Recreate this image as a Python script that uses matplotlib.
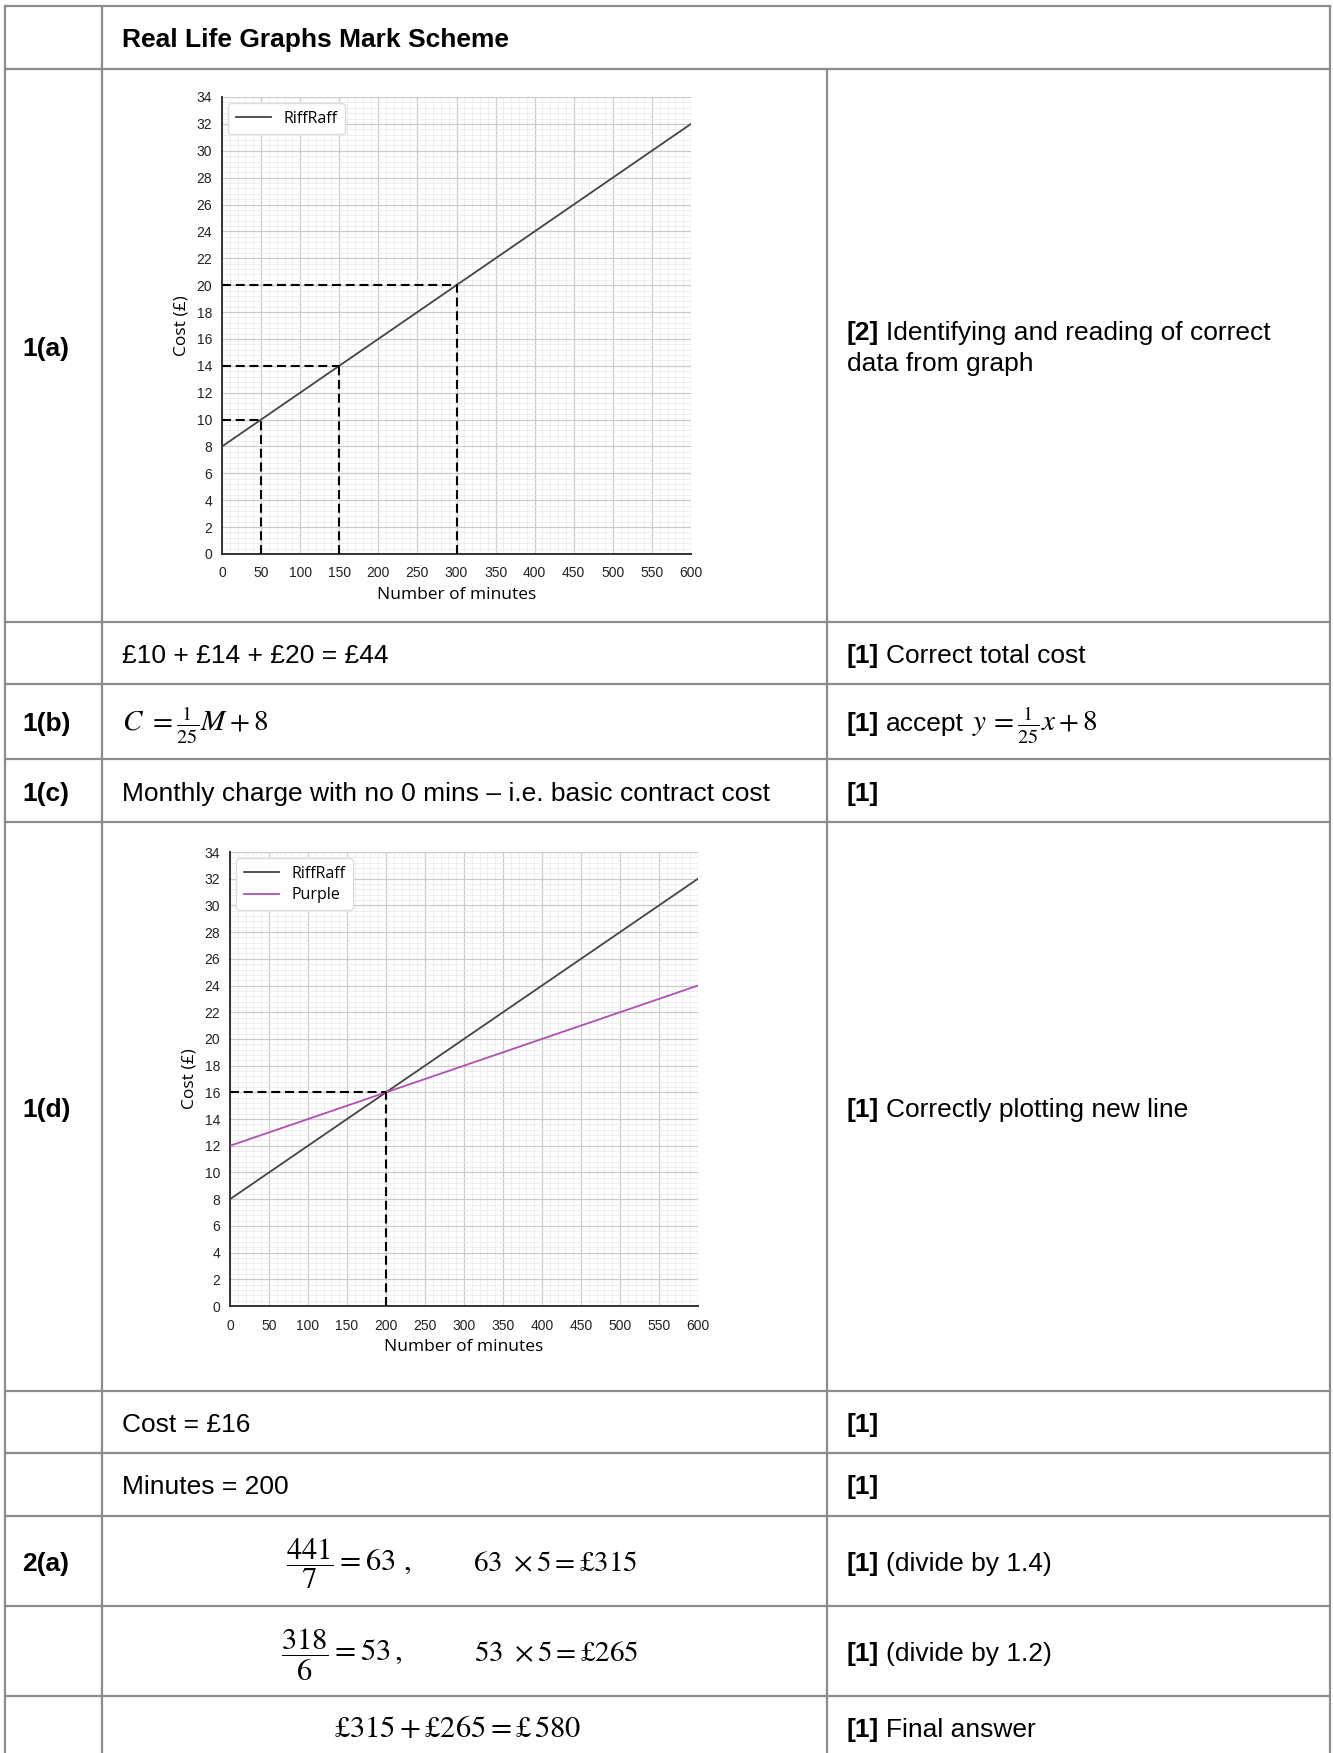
import matplotlib
matplotlib.use("Agg")
import matplotlib.pyplot as plt
from matplotlib.lines import Line2D
from matplotlib.ticker import MultipleLocator

plt.rcParams['font.family'] = ['Liberation Sans', 'DejaVu Sans']
plt.rcParams['mathtext.fontset'] = 'stix'

W, H = 1333, 1753
FS = 19            # body text size (pt)
MFS = 22           # maths size (pt)
GRID = '#8c8c8c'

# ---- chart data ----
minutes = [0, 600]
riffraff = [8, 32]
purple = [12, 24]
x_ticks = list(range(0, 601, 50))
y_ticks = list(range(0, 35, 2))
reads_a = [(50, 10), (150, 14), (300, 20)]   # dashed read-offs in 1(a)
reads_d = [(200, 16)]                         # intersection in 1(d)

# ---- table layout (pixels) ----
col_x = [5, 102, 827, 1330]
row_y = [6, 69, 622, 684, 759, 822, 1391, 1453, 1516, 1606, 1696]

fig = plt.figure(figsize=(W / 100, H / 100), dpi=100)
fig.patch.set_facecolor('white')


def fx(px):
    return px / W


def fy(py):
    return 1 - py / H


def hline(y, x0, x1):
    fig.add_artist(Line2D([fx(x0), fx(x1)], [fy(y), fy(y)], color=GRID, lw=1.6))


def vline(x, y0, y1):
    fig.add_artist(Line2D([fx(x), fx(x)], [fy(y0), fy(y1)], color=GRID, lw=1.6))


for y in row_y:
    hline(y, col_x[0], col_x[-1])
vline(col_x[0], row_y[0], H)
vline(col_x[1], row_y[0], H)
vline(col_x[2], row_y[1], H)
vline(col_x[3], row_y[0], H)

renderer = fig.canvas.get_renderer()


def rich(x, y, parts, size=FS):
    """parts: list of (text, weight, gap_after_px)"""
    cx = x
    for s, w, gap in parts:
        t = fig.text(fx(cx), fy(y), s, fontsize=size, fontweight=w,
                     va='baseline', ha='left')
        bb = t.get_window_extent(renderer=renderer)
        cx += bb.width + gap
    return cx


LBL_X = 22
TXT_X = 122
MARK_X = 847

# title
fig.text(fx(TXT_X), fy(47), 'Real Life Graphs Mark Scheme', fontsize=FS,
         fontweight='bold', va='baseline')

# row labels
for lab, yb in [('1(a)', 356), ('1(b)', 731), ('1(c)', 801), ('1(d)', 1117), ('2(a)', 1571)]:
    fig.text(fx(LBL_X), fy(yb), lab, fontsize=FS, fontweight='bold', va='baseline')

# mark column
rich(MARK_X, 340, [('[2]', 'bold', 7), ('Identifying and reading of correct', 'normal', 0)])
fig.text(fx(MARK_X), fy(371), 'data from graph', fontsize=FS, va='baseline')
rich(MARK_X, 663, [('[1]', 'bold', 7), ('Correct total cost', 'normal', 0)])
cx = rich(MARK_X, 731, [('[1]', 'bold', 7), ('accept', 'normal', 8)])
fig.text(fx(cx), fy(731), r'$y\,=\frac{1}{25}x+8$', fontsize=MFS - 1, va='baseline')
rich(MARK_X, 801, [('[1]', 'bold', 0)])
rich(MARK_X, 1117, [('[1]', 'bold', 7), ('Correctly plotting new line', 'normal', 0)])
rich(MARK_X, 1432, [('[1]', 'bold', 0)])
rich(MARK_X, 1494, [('[1]', 'bold', 0)])
rich(MARK_X, 1571, [('[1]', 'bold', 7), ('(divide by 1.4)', 'normal', 0)])
rich(MARK_X, 1661, [('[1]', 'bold', 7), ('(divide by 1.2)', 'normal', 0)])
rich(MARK_X, 1737, [('[1]', 'bold', 7), ('Final answer', 'normal', 0)])

# working column
fig.text(fx(TXT_X), fy(663), '£10 + £14 + £20 = £44', fontsize=FS, va='baseline')
fig.text(fx(TXT_X), fy(731), r'$C\ =\frac{1}{25}M+8$', fontsize=MFS - 1, va='baseline')
fig.text(fx(TXT_X), fy(801), 'Monthly charge with no 0 mins \u2013 i.e. basic contract cost',
         fontsize=FS, va='baseline')
fig.text(fx(TXT_X), fy(1432), 'Cost = £16', fontsize=FS, va='baseline')
fig.text(fx(TXT_X), fy(1494), 'Minutes = 200', fontsize=FS, va='baseline')
fig.text(fx(286), fy(1571), r'$\dfrac{441}{7}=63\ ,$', fontsize=MFS, va='baseline')
fig.text(fx(473), fy(1571), r'$63\ \times 5=£315$', fontsize=MFS - 1, va='baseline')
fig.text(fx(281), fy(1661), r'$\dfrac{318}{6}=53\,,$', fontsize=MFS, va='baseline')
fig.text(fx(474), fy(1661), r'$53\ \times 5=£265$', fontsize=MFS - 1, va='baseline')
fig.text(fx(334), fy(1737), r'$£315+£265=£\,580$', fontsize=MFS, va='baseline')


def make_chart(left, right, top, bottom, series, reads):
    ax = fig.add_axes([fx(left), fy(bottom), (right - left) / W, (bottom - top) / H])
    for label, ys, color in series:
        ax.plot(minutes, ys, color=color, lw=1.3, label=label, zorder=3)
    for xr, yr in reads:
        ax.plot([0, xr], [yr, yr], color='black', lw=1.5, ls=(0, (4.3, 2.3)), zorder=4)
        ax.plot([xr, xr], [0, yr], color='black', lw=1.5, ls=(0, (4.3, 2.3)), zorder=4)
    ax.set_xlim(0, 600)
    ax.set_ylim(0, 34)
    ax.set_xticks(x_ticks)
    ax.set_yticks(y_ticks)
    ax.xaxis.set_minor_locator(MultipleLocator(10))
    ax.yaxis.set_minor_locator(MultipleLocator(0.4))
    ax.grid(True, which='major', color='#cccccc', lw=0.9)
    ax.grid(True, which='minor', color='#ebebeb', lw=0.6)
    ax.set_axisbelow(True)
    ax.tick_params(which='both', length=0, labelsize=10, colors='#222222')
    ax.tick_params(axis='x', pad=9)
    ax.tick_params(axis='y', pad=7)
    for s in ('top', 'right'):
        ax.spines[s].set_visible(False)
    for s in ('left', 'bottom'):
        ax.spines[s].set_color('#333333')
        ax.spines[s].set_linewidth(1.4)
    ax.set_xlabel('Number of minutes', family='Open Sans', fontsize=12.5, labelpad=5)
    ax.set_ylabel('Cost (£)', family='Open Sans', fontsize=12.5, labelpad=5)
    ax.legend(loc='upper left', prop={'family': 'Open Sans', 'size': 11.5},
              handlelength=2.2, borderpad=0.45, labelspacing=0.35, framealpha=1,
              edgecolor='#dddddd', borderaxespad=0.4)
    return ax


make_chart(222, 691, 97, 554, [('RiffRaff', riffraff, '#444444')], reads_a)
make_chart(230, 698, 852, 1306,
           [('RiffRaff', riffraff, '#444444'), ('Purple', purple, '#b04fb4')], reads_d)

fig.savefig('out.png', dpi=100, facecolor='white')
